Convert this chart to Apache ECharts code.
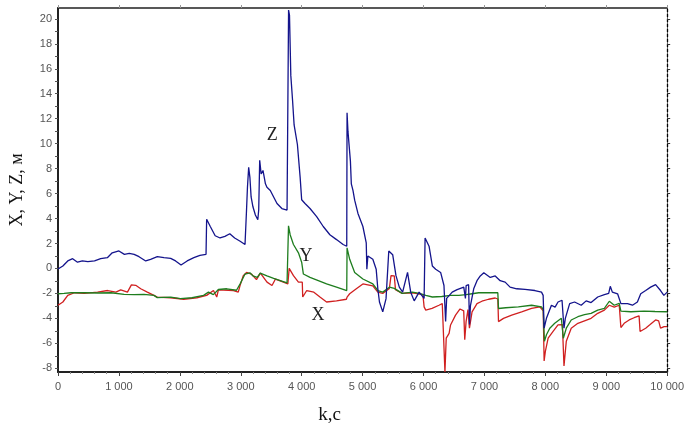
<!DOCTYPE html>
<html>
<head>
<meta charset="utf-8">
<script src="https://cdn.jsdelivr.net/npm/echarts@6/dist/echarts.min.js"></script>
<style>
  html, body { margin: 0; padding: 0; background: #fff; }
  #chart { width: 687px; height: 430px; }
</style>
</head>
<body>
<div id="chart"></div>
<script>
// значения (время, с / координата, м)
var zTime = [0, 80, 160, 240, 320, 400, 490, 600, 700, 810, 890, 1000, 1090, 1170, 1250, 1330, 1440, 1520, 1630, 1740, 1850, 1930, 2020, 2120, 2230, 2330, 2430,
  2440, 2500, 2580, 2660, 2740, 2820, 2900, 2990, 3070, 3085, 3095, 3110, 3130, 3150, 3170, 3200, 3240, 3280, 3295, 3311, 3335, 3365, 3405, 3430, 3485, 3540, 3595, 3675, 3760,
  3785, 3800, 3822, 3850, 3876, 3930, 3975, 4000, 4055, 4137, 4246, 4354, 4463, 4572, 4680, 4740,
  4745, 4760, 4800, 4815, 4842, 4870, 4924, 5005, 5060, 5070, 5087, 5168, 5223, 5250, 5277, 5331, 5385, 5430, 5494, 5521, 5548, 5603, 5657, 5738, 5790, 5847, 5928, 6010,
  6026, 6091, 6145, 6200, 6281, 6336, 6363, 6380, 6471, 6552, 6661, 6688, 6700, 6740, 6755, 6770, 6824, 6878, 6932, 6990, 7014, 7096, 7177, 7258, 7340, 7421, 7530, 7666, 7828, 7937,
  7964, 7980, 8018, 8100, 8160, 8208, 8274, 8290, 8306, 8328, 8399, 8480, 8589, 8670, 8751, 8860, 8969, 9040, 9066, 9100, 9186, 9240, 9349, 9430, 9511, 9566, 9647, 9728, 9810, 9891, 9946, 10000];
var zVal = [-0.05, 0.2, 0.6, 0.78, 0.5, 0.6, 0.55, 0.6, 0.78, 0.86, 1.25, 1.4, 1.13, 1.2, 1.13, 0.94, 0.6, 0.73, 0.94, 0.86, 0.8, 0.6, 0.28, 0.6, 0.86, 1.05, 1.13,
  3.94, 3.36, 2.62, 2.44, 2.57, 2.78, 2.44, 2.18, 1.92, 2.0, 4.7, 6.5, 8.1, 7.3, 5.73, 4.94, 4.28, 3.9, 4.7, 8.67, 7.57, 7.85, 6.78, 6.5, 6.25, 5.73, 5.2, 4.8, 4.68,
  20.7, 20.3, 15.45, 13.5, 11.5, 9.93, 7.3, 5.5, 5.2, 4.8, 4.15, 3.36, 2.7, 2.31, 1.92, 1.78,
  12.48, 10.98, 8.6, 6.78, 6.25, 5.47, 4.41, 3.36, 2.04, -0.06, 1.0, 0.73, -0.06, -1.63, -2.69, -3.48, -2.42, 1.39, 1.1, 1.13, -0.58, -1.5, -1.9, -0.32, -1.9, -2.6, -1.9, -2.4,
  2.44, 1.78, 0.2, -0.06, -0.32, -1.37, -4.26, -2.4, -1.9, -1.7, -1.5, -2.4, -1.37, -1.3, -4.5, -3.0, -1.63, -0.98, -0.6, -0.35, -0.32, -0.72, -0.6, -0.98, -1.1, -1.5, -1.63, -1.68, -1.77, -1.9,
  -2.16, -4.79, -4.0, -2.95, -3.1, -2.69, -2.55, -2.7, -4.79, -4.0, -2.82, -2.69, -2.95, -2.6, -2.74, -2.29, -2.1, -2.0, -1.43, -1.9, -2.03, -2.82, -2.82, -2.95, -2.69, -2.03, -1.77, -1.5, -1.3, -1.77, -2.16, -1.9];

var yTime = [0, 100, 217, 430, 650, 870, 1086, 1250, 1410, 1575, 1630, 1850, 2010, 2200, 2390, 2470, 2550, 2633, 2770, 2930, 2990, 3070, 3150, 3200, 3270, 3320, 3430, 3540, 3650, 3760,
  3784, 3811, 3865, 3947, 4001, 4028, 4137, 4273, 4409, 4572, 4740, 4745, 4788, 4870, 5005, 5168, 5250, 5331, 5440, 5520, 5650, 5819, 5930, 6037, 6145, 6300, 6444, 6580, 6700, 6797, 6906, 7000, 7220,
  7231, 7350, 7557, 7774, 7937, 7965, 7985, 8020, 8073, 8154, 8263, 8280, 8295, 8344, 8425, 8534, 8643, 8751, 8860, 8969, 9050, 9131, 9213, 9240, 9403, 9620, 9800, 10000];
var yVal = [-2.03, -2.0, -1.95, -1.95, -1.97, -1.95, -2.08, -2.1, -2.08, -2.16, -2.34, -2.3, -2.42, -2.35, -2.16, -1.9, -2.1, -1.69, -1.63, -1.75, -1.24, -0.45, -0.35, -0.6, -0.72, -0.37, -0.6, -0.8, -0.98, -1.16,
  3.41, 2.7, 1.92, 1.25, 0.47, -0.45, -0.72, -0.98, -1.24, -1.5, -1.77, 1.65, 0.73, -0.32, -0.85, -1.24, -1.77, -1.9, -1.5, -1.6, -2.0, -1.9, -2.0, -2.16, -2.29, -2.25, -2.16, -2.16, -2.1, -2.03, -1.95, -1.95, -1.95,
  -3.21, -3.15, -3.08, -2.95, -3.08, -3.3, -5.84, -5.3, -4.79, -4.4, -4.0, -4.1, -5.6, -4.79, -4.13, -3.87, -3.71, -3.6, -3.34, -3.21, -2.63, -2.95, -2.8, -3.42, -3.47, -3.42, -3.45, -3.47];

var xTime = [0, 80, 160, 270, 430, 650, 815, 950, 1030, 1140, 1205, 1276, 1358, 1466, 1575, 1629, 1850, 2064, 2280, 2440, 2552, 2606, 2633, 2880, 2959, 2987, 3041, 3095, 3175, 3258, 3322, 3431, 3513, 3570, 3700, 3773,
  3795, 3865, 3947, 4010, 4017, 4083, 4200, 4300, 4409, 4572, 4734, 4745, 4788, 4897, 5005, 5168, 5250, 5331, 5440, 5467, 5520, 5540, 5650, 5819, 5990,
  6010, 6037, 6140, 6254, 6308, 6336, 6352, 6373, 6420, 6444, 6526, 6600, 6660, 6677, 6699, 6730, 6754, 6797, 6878, 6959, 7068, 7177, 7220,
  7231, 7313, 7448, 7611, 7774, 7910, 7965, 7980, 8002, 8046, 8127, 8208, 8280, 8306, 8344, 8425, 8534, 8643, 8751, 8860, 8969, 9050, 9131, 9213,
  9240, 9294, 9376, 9457, 9539, 9555, 9647, 9720, 9810, 9860, 9891, 9950, 10000];
var xVal = [-2.95, -2.69, -2.16, -1.95, -2.0, -1.9, -1.77, -1.9, -1.72, -1.9, -1.32, -1.35, -1.63, -1.9, -2.16, -2.3, -2.35, -2.47, -2.35, -2.16, -1.77, -2.29, -1.72, -1.77, -1.9, -1.4, -0.58, -0.32, -0.45, -0.9, -0.37, -1.1, -1.37, -0.85, -1.1, -1.24,
  0.0, -0.58, -1.1, -1.1, -2.29, -1.77, -1.9, -2.29, -2.69, -2.6, -2.47, -2.3, -2.03, -1.63, -1.24, -1.4, -1.9, -2.0, -1.6, -0.58, -0.6, -1.7, -2.0, -1.95, -2.1,
  -3.08, -3.34, -3.2, -2.95, -2.82, -2.95, -8.3, -5.58, -5.2, -4.53, -3.74, -3.25, -3.4, -5.71, -4.26, -3.3, -4.79, -3.48, -2.82, -2.63, -2.47, -2.37, -2.45,
  -4.26, -4.0, -3.74, -3.48, -3.21, -3.08, -3.4, -7.42, -6.6, -5.58, -5.05, -4.53, -4.5, -7.81, -5.84, -4.79, -4.4, -4.2, -4.0, -3.6, -3.34, -2.95, -3.1, -2.95,
  -4.74, -4.4, -4.13, -3.95, -3.8, -5.05, -4.79, -4.5, -4.13, -4.2, -4.79, -4.66, -4.66];

var yTicks = [-8, -6, -4, -2, 0, 2, 4, 6, 8, 10, 12, 14, 16, 18, 20];
var yMinor = [-8, -7, -6, -5, -4, -3, -2, -1, 0, 1, 2, 3, 4, 5, 6, 7, 8, 9, 10, 11, 12, 13, 14, 15, 16, 17, 18, 19, 20];
// подписи кривых: [текст, t, значение]
var curveNames = [['Z', 3518, 10.7], ['Y', 4072, 1.0], ['X', 4267, -3.74]];

function pairs(t, v) {
  return t.map(function (x, i) { return [x, v[i]]; });
}
function thousands(v) {
  return String(v).replace(/\B(?=(\d{3})+$)/g, ' ');
}

var myChart = echarts.init(document.getElementById('chart'));
var option = {
  animation: false,
  backgroundColor: '#fff',
  grid: { left: 56, right: 17, top: 8, bottom: 52 },
  xAxis: [
    {
      type: 'value', min: 0, max: 10000, interval: 1000,
      name: 'k,c', nameLocation: 'middle', nameGap: 34,
      nameTextStyle: { fontFamily: 'Liberation Serif', fontSize: 19, color: '#111', padding: [0, 66, 0, 0] },
      axisLine: { onZero: false, lineStyle: { color: '#222', width: 2 } },
      axisTick: { length: 4, lineStyle: { color: '#444' } },
      minorTick: { show: true, splitNumber: 5, length: 2, lineStyle: { color: '#888' } },
      axisLabel: { formatter: thousands, color: '#555', fontFamily: 'Liberation Sans', fontSize: 11, margin: 9 },
      splitLine: { show: false }
    },
    {
      type: 'value', position: 'top', min: 0, max: 10000, interval: 1000,
      axisLine: { onZero: false, lineStyle: { color: '#222', width: 1.5 } },
      axisTick: { length: 3, lineStyle: { color: '#999' } },
      axisLabel: { show: false },
      splitLine: { show: false }
    }
  ],
  yAxis: [
    {
      type: 'value', min: -8.3, max: 20.87,
      name: 'X, Y, Z, м', nameLocation: 'middle', nameGap: 32,
      nameTextStyle: { fontFamily: 'Liberation Serif', fontSize: 18, color: '#111' },
      axisLine: { show: true, onZero: false, lineStyle: { color: '#222', width: 2 } },
      axisTick: { show: true, length: 3, customValues: yMinor, lineStyle: { color: '#555' } },
      axisLabel: { customValues: yTicks, color: '#555', fontFamily: 'Liberation Sans', fontSize: 11, margin: 6 },
      splitLine: { show: false }
    },
    {
      type: 'value', position: 'right', min: -8.3, max: 20.87,
      axisLine: { show: true, onZero: false, lineStyle: { color: '#000', width: 1.3, type: [3, 2] } },
      axisTick: { show: true, length: 3, customValues: yTicks, lineStyle: { color: '#333' } },
      axisLabel: { show: false },
      splitLine: { show: false }
    }
  ],
  series: [
    {
      name: 'X', type: 'line', data: pairs(xTime, xVal), showSymbol: false,
      lineStyle: { color: '#d02020', width: 1.3 }, itemStyle: { color: '#d02020' }
    },
    {
      name: 'Y', type: 'line', data: pairs(yTime, yVal), showSymbol: false,
      lineStyle: { color: '#1e7d1e', width: 1.3 }, itemStyle: { color: '#1e7d1e' }
    },
    {
      name: 'Z', type: 'line', data: pairs(zTime, zVal), showSymbol: false,
      lineStyle: { color: '#14148c', width: 1.3 }, itemStyle: { color: '#14148c' },
      markPoint: {
        symbol: 'circle', symbolSize: 0, silent: true,
        label: {
          show: true, position: 'inside',
          fontFamily: 'Liberation Serif', fontSize: 18, color: '#222',
          formatter: function (p) { return p.name; }
        },
        data: curveNames.map(function (c) { return { name: c[0], coord: [c[1], c[2]] }; })
      }
    }
  ]
};
myChart.setOption(option);
</script>
</body>
</html>
